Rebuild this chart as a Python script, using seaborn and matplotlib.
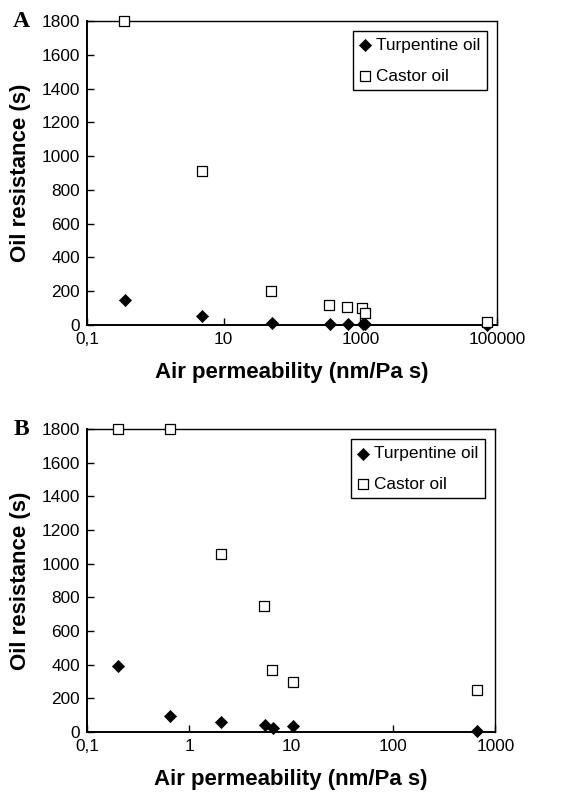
import numpy as np
import pandas as pd
import matplotlib
matplotlib.use('Agg')
import matplotlib.pyplot as plt
import seaborn as sns

# --- data ---
# panel A
a_perm_turp = [0.355, 4.9, 51, 355, 650, 1100, 1160, 71000]
a_res_turp = [150, 55, 14, 6, 6, 6, 6, 0]
a_perm_cast = [0.35, 4.8, 50, 350, 645, 1070, 1160, 71000]
a_res_cast = [1800, 910, 202, 120, 109, 101, 71, 20]

# panel B
b_perm_turp = [0.2, 0.65, 2.07, 5.5, 6.6, 10.4, 665]
b_res_turp = [390, 97, 61, 42, 26, 34, 6]
b_perm_cast = [0.2, 0.65, 2.05, 5.36, 6.5, 10.4, 656]
b_res_cast = [1800, 1800, 1060, 751, 366, 297, 249]

a_xticks = [0.1, 10, 1000, 100000]
a_xlabels = ['0,1', '10', '1000', '100000']
b_xticks = [0.1, 1, 10, 100, 1000]
b_xlabels = ['0,1', '1', '10', '100', '1000']
yticks = list(range(0, 2000, 200))

sns.set_style('ticks')
plt.rcParams['font.family'] = ['Liberation Sans', 'DejaVu Sans']
plt.rcParams['text.color'] = 'black'
plt.rcParams['axes.labelcolor'] = 'black'
plt.rcParams['xtick.color'] = 'black'
plt.rcParams['ytick.color'] = 'black'

fig = plt.figure(figsize=(5.66, 7.97), dpi=100)
ax_a = fig.add_axes([0.1537, 0.5922, 0.7244, 0.3814])
ax_b = fig.add_axes([0.1537, 0.0816, 0.7215, 0.3800])


def draw(ax, pt, rt, pc, rc, xt, xl, xlim, letter):
    turp = pd.DataFrame({'perm': pt, 'res': rt})
    cast = pd.DataFrame({'perm': pc, 'res': rc})
    sns.scatterplot(data=turp, x='perm', y='res', ax=ax, marker='D', color='black',
                    edgecolor='black', s=38, linewidth=0.5, label='Turpentine oil',
                    clip_on=False, zorder=3)
    sns.scatterplot(data=cast, x='perm', y='res', ax=ax, marker='s', color='white',
                    edgecolor='black', s=42, linewidth=0.9, label='Castor oil',
                    clip_on=False, zorder=4)
    ax.set_xscale('log')
    ax.set_xlim(*xlim)
    ax.set_ylim(0, 1800)
    ax.set_xticks(xt)
    ax.set_xticklabels(xl)
    ax.minorticks_off()
    ax.set_yticks(yticks)
    ax.tick_params(direction='in', length=5, width=1, labelsize=12.4, pad=5,
                   colors='black')
    for s in ['left', 'bottom']:
        ax.spines[s].set_linewidth(1.4)
    for s in ['top', 'right']:
        ax.spines[s].set_linewidth(1.0)
        ax.spines[s].set_visible(True)
    for s in ax.spines.values():
        s.set_color('black')
    ax.set_xlabel('Air permeability (nm/Pa s)', fontsize=16, fontweight='bold',
                  labelpad=11)
    ax.set_ylabel('Oil resistance (s)', fontsize=16, fontweight='bold', labelpad=8)
    leg = ax.legend(loc='upper right', fontsize=12.4, frameon=True, fancybox=False,
                    edgecolor='black', framealpha=1, handletextpad=0.3,
                    labelspacing=0.9, borderpad=0.38, borderaxespad=0.6,
                    handlelength=0.65)
    leg.get_frame().set_linewidth(1.0)
    ax.text(-0.18, 1.0, letter, transform=ax.transAxes, fontsize=17,
            fontweight='bold', family='Liberation Serif', ha='left', va='center')


draw(ax_a, a_perm_turp, a_res_turp, a_perm_cast, a_res_cast,
     a_xticks, a_xlabels, (0.1, 100000), 'A')
draw(ax_b, b_perm_turp, b_res_turp, b_perm_cast, b_res_cast,
     b_xticks, b_xlabels, (0.1, 1000), 'B')

plt.savefig('out.png', dpi=100)
